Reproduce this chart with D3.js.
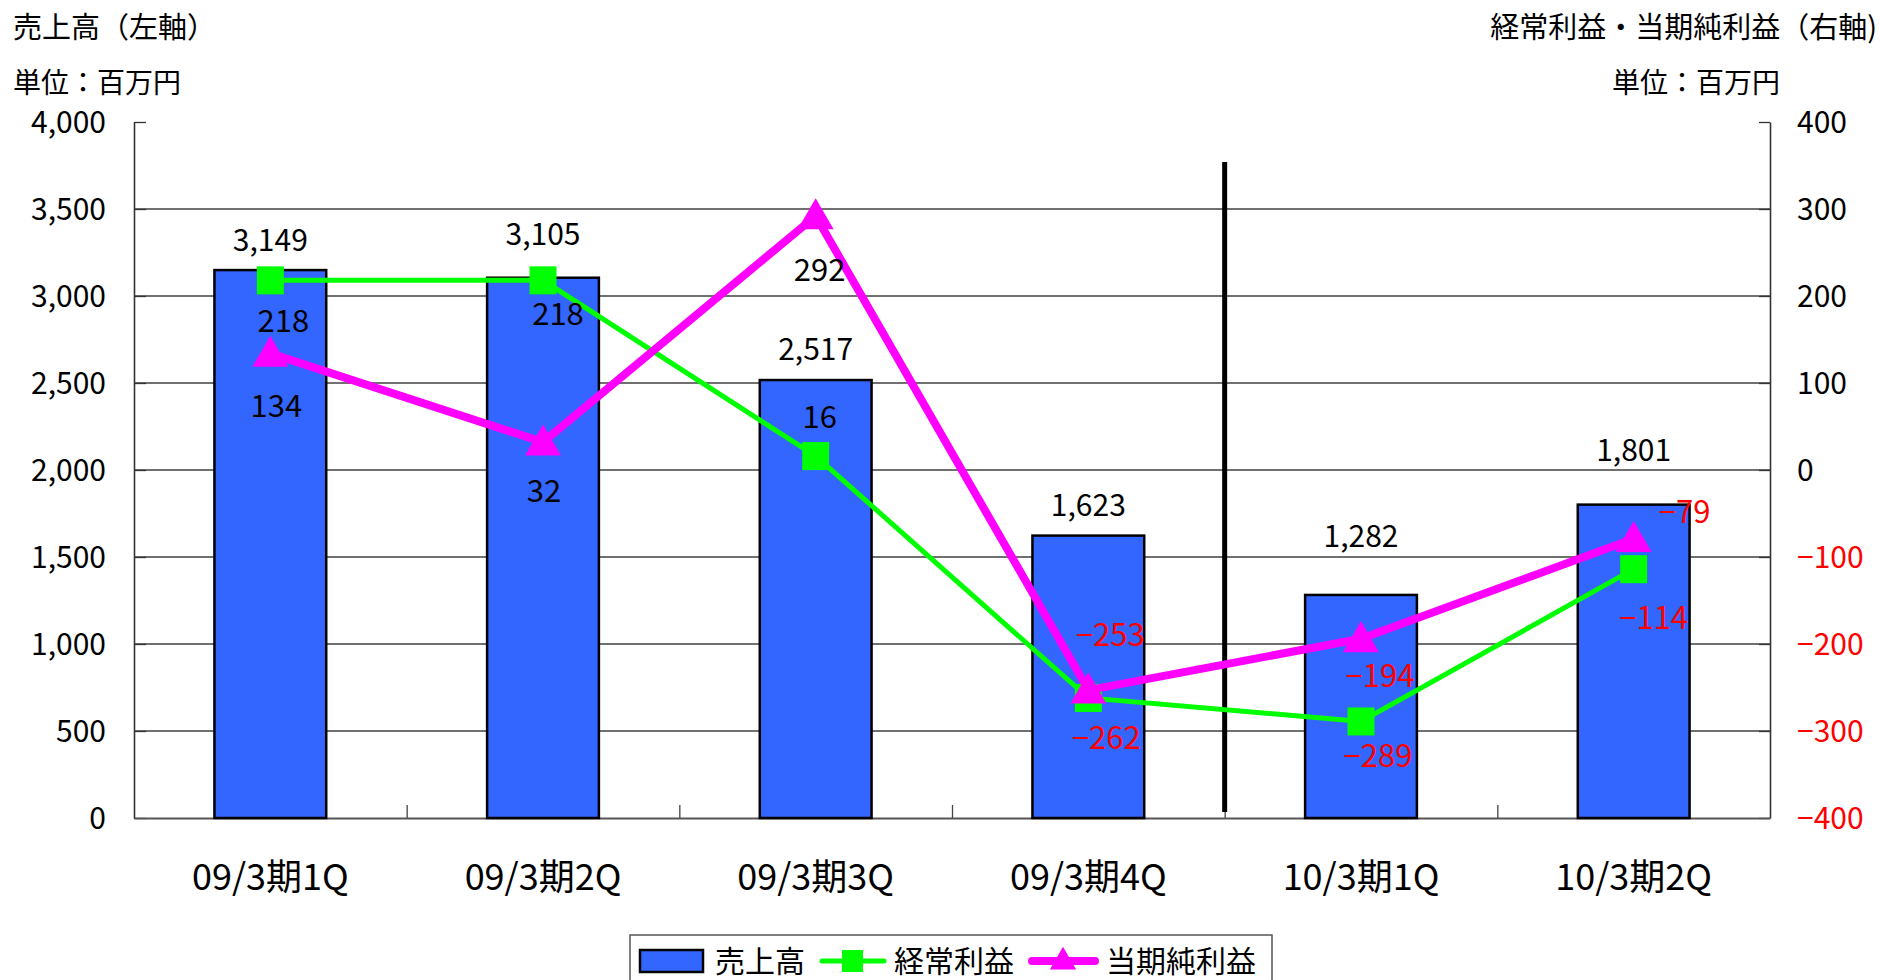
<!DOCTYPE html>
<html>
<head>
<meta charset="utf-8">
<script src="https://cdn.jsdelivr.net/npm/d3@7"></script>
<style>
  body { margin: 0; background: #fff; }
  text { font-family: "Noto Sans CJK JP", sans-serif; }
</style>
</head>
<body>
<div id="chart"></div>
<script>
// data (百万円)
const categories = ["09/3期1Q", "09/3期2Q", "09/3期3Q", "09/3期4Q", "10/3期1Q", "10/3期2Q"];
const sales = [3149, 3105, 2517, 1623, 1282, 1801];
const ordinaryProfit = [218, 218, 16, -262, -289, -114];
const netProfit = [134, 32, 292, -253, -194, -79];
const leftTicks = [0, 500, 1000, 1500, 2000, 2500, 3000, 3500, 4000];
const rightTicks = [-400, -300, -200, -100, 0, 100, 200, 300, 400];
const legendNames = ["売上高", "経常利益", "当期純利益"];

// hand placed label offsets, like the original
const salesLabelDy = [-30, -44, -31, -31, -59, -55];
const ordinaryLabelOff = [[13, 41], [15, 34], [4, -39], [18, 40], [17, 35], [20, 49]];
const netLabelOff = [[6, 53], [1, 49], [4, 54], [22, -55], [19, 37], [51, -27]];

const width = 1881, height = 980;
const plot = { left: 134, right: 1770, top: 122, bottom: 818 };

const svg = d3.select("#chart").append("svg")
    .attr("width", width)
    .attr("height", height);

const x = d3.scaleBand().domain(categories).range([plot.left, plot.right]);
const yL = d3.scaleLinear().domain([0, 4000]).range([plot.bottom, plot.top]);
const yR = d3.scaleLinear().domain([-400, 400]).range([plot.bottom, plot.top]);
const cx = c => x(c) + x.bandwidth() / 2;
const barW = x.bandwidth() * 0.41;

const fmtL = d3.format(",d");
const fmtR = d3.format("d");
const numColor = v => v < 0 ? "#ff0000" : "#000";

// gridlines (none on top edge)
svg.append("g").selectAll("line")
    .data(leftTicks.filter(d => d > 0 && d < 4000))
    .join("line")
    .attr("x1", plot.left).attr("x2", plot.right)
    .attr("y1", d => yL(d)).attr("y2", d => yL(d))
    .attr("stroke", "#404040").attr("stroke-width", 1.3);

// left axis
const axL = svg.append("g").attr("transform", `translate(${plot.left},0)`)
    .call(d3.axisRight(yL).tickValues(leftTicks).tickSize(12).tickSizeOuter(0).tickFormat(""));
axL.select(".domain").attr("stroke", "#333").attr("stroke-width", 1.6);
axL.selectAll(".tick line").attr("stroke", "#333").attr("stroke-width", 1.3);
svg.append("g").selectAll("text")
    .data(leftTicks)
    .join("text")
    .attr("x", 106).attr("y", d => yL(d) + 11)
    .attr("text-anchor", "end")
    .attr("font-size", 30)
    .text(fmtL);

// right axis
const axR = svg.append("g").attr("transform", `translate(${plot.right},0)`)
    .call(d3.axisLeft(yR).tickValues(rightTicks).tickSize(11).tickSizeOuter(0).tickFormat(""));
axR.select(".domain").attr("stroke", "#333").attr("stroke-width", 1.6);
axR.selectAll(".tick line").attr("stroke", "#333").attr("stroke-width", 1.3);
svg.append("g").selectAll("text")
    .data(rightTicks)
    .join("text")
    .attr("x", 1797).attr("y", d => yR(d) + 11)
    .attr("fill", numColor)
    .attr("font-size", 30)
    .text(fmtR);

// bottom axis with category ticks
const axB = svg.append("g").attr("transform", `translate(0,${plot.bottom})`)
    .call(d3.axisTop(d3.scaleLinear().domain([0, 6]).range([plot.left, plot.right]))
        .tickValues([1, 2, 3, 4, 5]).tickSize(13).tickSizeOuter(0).tickFormat(""));
axB.select(".domain").attr("stroke", "#555").attr("stroke-width", 2);
axB.selectAll(".tick line").attr("stroke", "#444").attr("stroke-width", 1.3);
svg.append("g").selectAll("text")
    .data(categories)
    .join("text")
    .attr("x", d => cx(d)).attr("y", 890)
    .attr("text-anchor", "middle")
    .attr("font-size", 36)
    .text(d => d);

// bars
svg.append("g").selectAll("rect")
    .data(sales)
    .join("rect")
    .attr("x", (d, i) => cx(categories[i]) - barW / 2)
    .attr("y", d => yL(d))
    .attr("width", barW)
    .attr("height", d => yL(0) - yL(d))
    .attr("fill", "#3366ff")
    .attr("stroke", "#000")
    .attr("stroke-width", 2.5);

// separator between fiscal years
svg.append("line")
    .attr("x1", x(categories[4])).attr("x2", x(categories[4]))
    .attr("y1", 162).attr("y2", 812)
    .attr("stroke", "#000").attr("stroke-width", 5);

// ordinary profit line
const lineR = d3.line().x((d, i) => cx(categories[i])).y(d => yR(d));
svg.append("path")
    .datum(ordinaryProfit)
    .attr("d", lineR)
    .attr("fill", "none").attr("stroke", "#00ff00").attr("stroke-width", 5);
svg.append("g").selectAll("rect")
    .data(ordinaryProfit)
    .join("rect")
    .attr("x", (d, i) => cx(categories[i]) - 13.5)
    .attr("y", d => yR(d) - 14)
    .attr("width", 27).attr("height", 28)
    .attr("fill", "#00ff00");

// net profit line
svg.append("path")
    .datum(netProfit)
    .attr("d", lineR)
    .attr("fill", "none").attr("stroke", "#ff00ff").attr("stroke-width", 8)
    .attr("stroke-linejoin", "round");
const tri = d3.symbol().type(d3.symbolTriangle).size(560);
svg.append("g").selectAll("path")
    .data(netProfit)
    .join("path")
    .attr("transform", (d, i) => `translate(${cx(categories[i])},${yR(d) + 3})`)
    .attr("d", tri)
    .attr("fill", "#ff00ff");

// data labels
svg.append("g").selectAll("text")
    .data(sales)
    .join("text")
    .attr("x", (d, i) => cx(categories[i]))
    .attr("y", (d, i) => yL(d) + salesLabelDy[i] + 11)
    .attr("text-anchor", "middle")
    .attr("font-size", 30)
    .text(fmtL);
svg.append("g").selectAll("text")
    .data(ordinaryProfit)
    .join("text")
    .attr("x", (d, i) => cx(categories[i]) + ordinaryLabelOff[i][0])
    .attr("y", (d, i) => yR(d) + ordinaryLabelOff[i][1] + 11)
    .attr("text-anchor", "middle")
    .attr("fill", numColor)
    .attr("font-size", 31)
    .text(fmtR);
svg.append("g").selectAll("text")
    .data(netProfit)
    .join("text")
    .attr("x", (d, i) => cx(categories[i]) + netLabelOff[i][0])
    .attr("y", (d, i) => yR(d) + netLabelOff[i][1] + 11)
    .attr("text-anchor", "middle")
    .attr("fill", numColor)
    .attr("font-size", 31)
    .text(fmtR);

// titles
svg.append("text").attr("x", 13).attr("y", 38).attr("font-size", 29).text("売上高（左軸）");
svg.append("text").attr("x", 13).attr("y", 93).attr("font-size", 28).text("単位：百万円");
svg.append("text").attr("x", 1877).attr("y", 38).attr("font-size", 29)
    .attr("text-anchor", "end").text("経常利益・当期純利益（右軸)");
svg.append("text").attr("x", 1780).attr("y", 93).attr("font-size", 28)
    .attr("text-anchor", "end").text("単位：百万円");

// legend
const lg = svg.append("g");
lg.append("rect")
    .attr("x", 630).attr("y", 935).attr("width", 642).attr("height", 70)
    .attr("fill", "#fff").attr("stroke", "#555").attr("stroke-width", 1.5);
lg.append("rect")
    .attr("x", 640).attr("y", 950).attr("width", 63).attr("height", 22)
    .attr("fill", "#3366ff").attr("stroke", "#000").attr("stroke-width", 2.5);
lg.append("line").attr("x1", 822).attr("x2", 884).attr("y1", 961).attr("y2", 961)
    .attr("stroke", "#00ff00").attr("stroke-width", 5).attr("stroke-linecap", "round");
lg.append("rect").attr("x", 842).attr("y", 950).attr("width", 21).attr("height", 22).attr("fill", "#00ff00");
lg.append("line").attr("x1", 1032).attr("x2", 1095).attr("y1", 961).attr("y2", 961)
    .attr("stroke", "#ff00ff").attr("stroke-width", 8).attr("stroke-linecap", "round");
lg.append("path").attr("transform", "translate(1063,962)")
    .attr("d", d3.symbol().type(d3.symbolTriangle).size(300)).attr("fill", "#ff00ff");
lg.selectAll("text.lgt")
    .data(legendNames)
    .join("text")
    .attr("class", "lgt")
    .attr("x", (d, i) => [715, 894, 1106][i])
    .attr("y", 972)
    .attr("font-size", 30)
    .text(d => d);
</script>
</body>
</html>
